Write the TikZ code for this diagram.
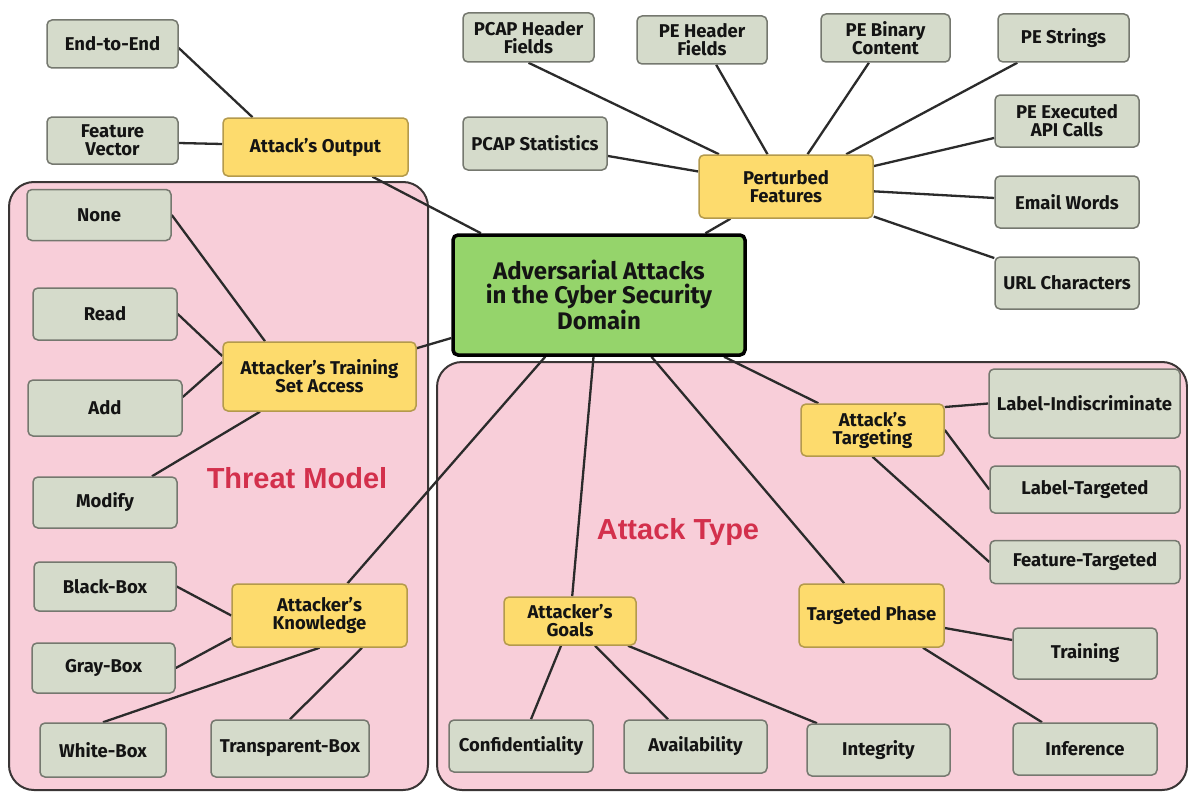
\documentclass[tikz,border=0pt]{standalone}
\usepackage{fontspec}
\setmainfont{Fira Sans}
\newfontfamily\labelfont{Liberation Sans}
\usetikzlibrary{calc}
\definecolor{gfill}{HTML}{D5DBCB}
\definecolor{gdraw}{HTML}{75786F}
\definecolor{yfill}{HTML}{FDDB6D}
\definecolor{ydraw}{HTML}{B49A4C}
\definecolor{cfill}{HTML}{95D46B}
\definecolor{pinkfill}{HTML}{F8CED9}
\definecolor{pinkdraw}{HTML}{3A3535}
\definecolor{redlabel}{HTML}{D3304C}
\definecolor{linecol}{HTML}{2B2B2B}
\pgfdeclarelayer{back}
\pgfdeclarelayer{mid}
\pgfsetlayers{back,mid,main}
\begin{document}
\begin{tikzpicture}[x=1pt,y=-1pt,
 box/.style={rectangle, rounded corners=5pt, line width=1.5pt, align=center, inner sep=2pt,
   font=\fontsize{18.5}{18}\selectfont\bfseries, text=black!92},
 leaf/.style={box, fill=gfill, draw=gdraw},
 hub/.style={box, fill=yfill, draw=ydraw},
 root/.style={rectangle, rounded corners=5pt, line width=3.5pt, draw=black, fill=cfill, align=center,
   font=\fontsize{24}{24}\selectfont\bfseries, text=black!92},
 region/.style={fill=pinkfill, draw=pinkdraw, line width=2pt, rounded corners=25pt},
 link/.style={draw=linecol, line width=2.3pt},
 title/.style={font=\labelfont\fontsize{29}{29}\selectfont\bfseries, text=redlabel}]

\useasboundingbox (0,0) rectangle (1188,792);
\begin{pgfonlayer}{back}
\fill[white] (0,0) rectangle (1188,792);
\draw[region] (9,182) rectangle (428,790);
\draw[region] (437,362) rectangle (1187,790);
\end{pgfonlayer}

% root
\node[root, minimum width=292pt, minimum height=120pt] (central) at (599,295) {Adversarial Attacks\\in the Cyber Security\\Domain};

% attack's output
\node[leaf, minimum width=131pt, minimum height=48pt] (e2e) at (112.5,44) {End-to-End};
\node[leaf, minimum width=131pt, minimum height=47pt] (fv) at (112.5,140.5) {Feature\\Vector};
\node[hub, minimum width=185pt, minimum height=58pt] (ao) at (315.5,147) {Attack's Output};

% perturbed features
\node[leaf, minimum width=131pt, minimum height=49pt] (pcaph) at (528.5,37.5) {PCAP Header\\Fields};
\node[leaf, minimum width=130pt, minimum height=48pt] (peh) at (702,40) {PE Header\\Fields};
\node[leaf, minimum width=129pt, minimum height=48pt] (pebin) at (885.5,38) {PE Binary\\Content};
\node[leaf, minimum width=131pt, minimum height=48pt] (pestr) at (1063.5,38) {PE Strings};
\node[leaf, minimum width=144pt, minimum height=53pt] (pcaps) at (535,143.5) {PCAP Statistics};
\node[hub, minimum width=174pt, minimum height=63pt] (pf) at (786,186.5) {Perturbed\\Features};
\node[leaf, minimum width=144pt, minimum height=52pt] (pee) at (1067,121) {PE Executed\\API Calls};
\node[leaf, minimum width=144pt, minimum height=52pt] (email) at (1067,202) {Email Words};
\node[leaf, minimum width=144pt, minimum height=52pt] (url) at (1067,283) {URL Characters};

% threat model
\node[leaf, minimum width=144pt, minimum height=51pt] (none) at (99,215) {None};
\node[leaf, minimum width=144pt, minimum height=52pt] (read) at (105,314) {Read};
\node[leaf, minimum width=154pt, minimum height=56pt] (add) at (105,408) {Add};
\node[leaf, minimum width=144pt, minimum height=51pt] (modify) at (105,502.5) {Modify};
\node[hub, minimum width=193pt, minimum height=69pt] (atsa) at (319.5,376.5) {Attacker's Training\\Set Access};
\node[leaf, minimum width=142pt, minimum height=49pt] (bb) at (105,586.5) {Black-Box};
\node[leaf, minimum width=143pt, minimum height=50pt] (gb) at (103.5,668) {Gray-Box};
\node[hub, minimum width=175pt, minimum height=63pt] (know) at (319.5,615.5) {Attacker's\\Knowledge};
\node[leaf, minimum width=126pt, minimum height=54pt] (wb) at (103,750) {White-Box};
\node[leaf, minimum width=158pt, minimum height=57pt] (tb) at (290,748.5) {Transparent-Box};
\node[title] (tm) at (297,478) {Threat Model};

% attack type
\node[hub, minimum width=143pt, minimum height=52pt] (at) at (872.5,430) {Attack's\\Targeting};
\node[leaf, minimum width=191pt, minimum height=69pt] (li) at (1084.5,403.5) {Label-Indiscriminate};
\node[leaf, minimum width=190pt, minimum height=47pt] (lt) at (1085,489.5) {Label-Targeted};
\node[leaf, minimum width=190pt, minimum height=43pt] (ft) at (1085,562) {Feature-Targeted};
\node[hub, minimum width=132pt, minimum height=48pt] (goals) at (570,621) {Attacker's\\Goals};
\node[hub, minimum width=145pt, minimum height=63pt] (tp) at (871.5,615.5) {Targeted Phase};
\node[leaf, minimum width=144pt, minimum height=51pt] (train) at (1085,653.5) {Training};
\node[leaf, minimum width=144pt, minimum height=52pt] (conf) at (521,746) {Confidentiality};
\node[leaf, minimum width=143pt, minimum height=53pt] (avail) at (695.5,746.5) {Availability};
\node[leaf, minimum width=143pt, minimum height=52pt] (integ) at (878.5,750) {Integrity};
\node[leaf, minimum width=144pt, minimum height=52pt] (infer) at (1085,749) {Inference};
\node[title] (atl) at (678,532) {Attack Type};

\begin{pgfonlayer}{mid}
% attack's output
\draw[link] ([yshift=-4pt]e2e.east) -- ([xshift=-63pt]ao.north);
\draw[link] ([yshift=-2.5pt]fv.east) -- ([yshift=3pt]ao.west);
\draw[link] (ao) -- (central);
% perturbed features
\draw[link] (pcaph.south) -- (pf);
\draw[link] (peh) -- (pf);
\draw[link] (pebin) -- (pf);
\draw[link] (pestr) -- (pf);
\draw[link] (pcaps) -- (pf);
\draw[link] (pf) -- (pee);
\draw[link] (pf) -- (email);
\draw[link] (pf) -- (url);
\draw[link] (pf) -- (central);
% threat model
\draw[link] (central) -- (atsa);
\draw[link] (none.east) -- ([xshift=-54.5pt]atsa.north);
\draw[link] (read.east) -- ([yshift=20.5pt]atsa.west);
\draw[link] ([yshift=11pt]add.east) -- ([yshift=14.5pt]atsa.west);
\draw[link] ([xshift=47pt]modify.north) -- ([xshift=-59.5pt]atsa.south);
\draw[link] (central) -- (know);
\draw[link] (bb.east) -- (know.west);
\draw[link] (gb.east) -- ([yshift=-22.5pt]know.west);
\draw[link] (wb.north) -- (know.south);
\draw[link] (tb.north) -- ([xshift=42.5pt]know.south);
% attack type
\draw[link] (central) -- (goals);
\draw[link] (central) -- (tp);
\draw[link] (central) -- (at);
\draw[link] ([yshift=23pt]at.east) -- (li.west);
\draw[link] (at.east) -- (lt.west);
\draw[link] (at.south) -- (ft.west);
\draw[link] ([xshift=-9pt]goals.south) -- ([xshift=10pt]conf.north);
\draw[link] ([xshift=25pt]goals.south) -- ([xshift=-27.5pt]avail.north);
\draw[link] ([xshift=58pt]goals.south) -- ([xshift=-61.5pt]integ.north);
\draw[link] ([yshift=-12.5pt]tp.east) -- ([yshift=13.5pt]train.west);
\draw[link] ([xshift=51.5pt]tp.south) -- ([xshift=-43pt]infer.north);
\end{pgfonlayer}
\end{tikzpicture}
\end{document}
